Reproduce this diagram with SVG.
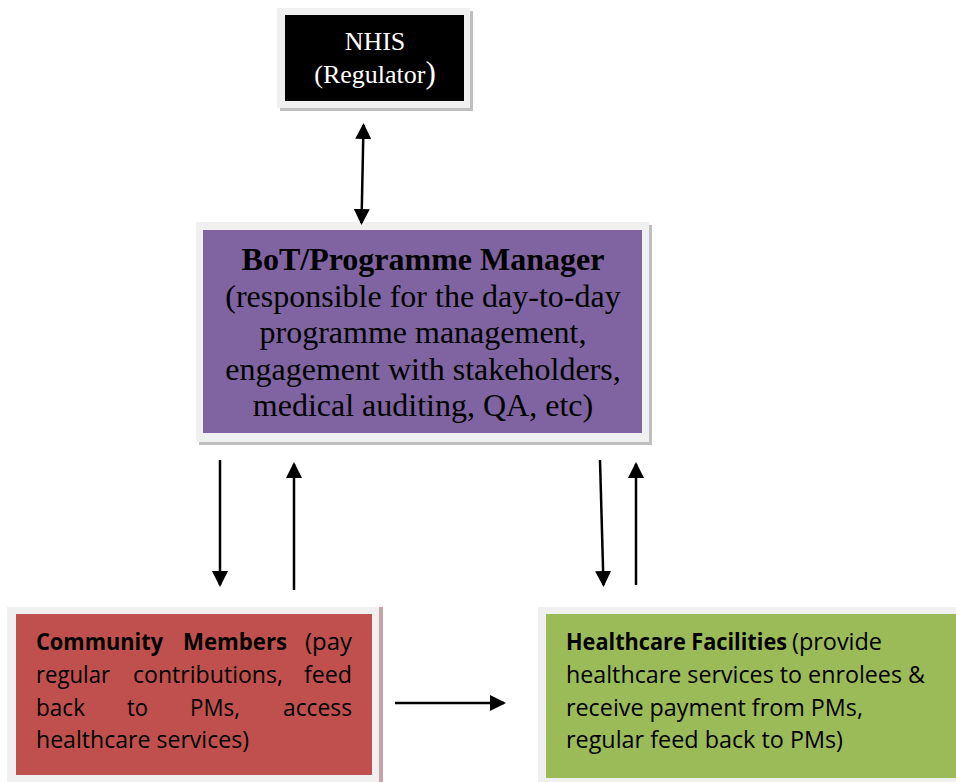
<svg xmlns="http://www.w3.org/2000/svg" width="956" height="782" viewBox="0 0 956 782">
<style>
.frame{fill:#f0f0f0}
.shadow{fill:#bfbfbf}
.serif{font-family:"Liberation Serif","Times New Roman",serif}
.sans{font-family:"Open Sans","Liberation Sans",Arial,sans-serif;font-size:23px;fill:#000}
.b{font-weight:bold}
.conn line{stroke:#000;stroke-width:2.5;fill:none}
</style>
<defs>
<marker id="ah" viewBox="0 0 16 16" refX="14" refY="8" markerWidth="16" markerHeight="16" markerUnits="userSpaceOnUse" orient="auto-start-reverse">
<path d="M0,0 L16,8 L0,16 z" fill="#000"/>
</marker>
</defs>
<rect width="956" height="782" fill="#fff"/>

<g id="nhis">
<rect class="shadow" x="280" y="11" width="193" height="100"/>
<rect class="frame" x="277" y="8" width="193" height="100"/>
<rect x="285" y="15" width="179" height="86" fill="#000"/>
<text class="serif" x="375" y="50" font-size="26" fill="#fff" text-anchor="middle">NHIS</text>
<text class="serif" x="375" y="83" font-size="26" fill="#fff" text-anchor="middle">(Regulator<tspan font-size="31">)</tspan></text>
</g>

<g id="bot">
<rect class="shadow" x="199" y="225" width="453" height="220"/>
<rect class="frame" x="196" y="222" width="453" height="220"/>
<rect x="203" y="230" width="439" height="203" fill="#8064a2"/>
<g class="serif" font-size="32" fill="#000" text-anchor="middle">
<text x="423" y="270" font-weight="bold">BoT/Programme Manager</text>
<text x="423" y="307">(responsible for the day-to-day</text>
<text x="423" y="343">programme management,</text>
<text x="423" y="380">engagement with stakeholders,</text>
<text x="423" y="416">medical auditing, QA, etc)</text>
</g>
</g>

<g id="community">
<rect x="378" y="607" width="5" height="175" fill="#c4a4a4"/>
<rect class="frame" x="7" y="607" width="372" height="175"/>
<rect x="16" y="614" width="356" height="161" fill="#c0504d"/>
<g class="sans">
<text class="b" x="36" y="650" textLength="127" lengthAdjust="spacingAndGlyphs">Community</text>
<text class="b" x="183" y="650" textLength="104" lengthAdjust="spacingAndGlyphs">Members</text>
<text x="305" y="650" textLength="47" lengthAdjust="spacingAndGlyphs">(pay</text>
<text x="36" y="683" textLength="74" lengthAdjust="spacingAndGlyphs">regular</text>
<text x="133" y="683" textLength="150" lengthAdjust="spacingAndGlyphs">contributions,</text>
<text x="304" y="683" textLength="48" lengthAdjust="spacingAndGlyphs">feed</text>
<text x="36" y="716" textLength="49" lengthAdjust="spacingAndGlyphs">back</text>
<text x="127" y="716" textLength="21" lengthAdjust="spacingAndGlyphs">to</text>
<text x="190" y="716" textLength="50" lengthAdjust="spacingAndGlyphs">PMs,</text>
<text x="283" y="716" textLength="69" lengthAdjust="spacingAndGlyphs">access</text>
<text x="36" y="748" textLength="213" lengthAdjust="spacingAndGlyphs">healthcare services)</text>
</g>
</g>

<g id="facilities">
<rect class="frame" x="538" y="607" width="418" height="175"/>
<rect x="546" y="614" width="410" height="164" fill="#9bbb59"/>
<g class="sans">
<text class="b" x="566" y="650" textLength="221" lengthAdjust="spacingAndGlyphs">Healthcare Facilities</text>
<text x="792" y="650" textLength="90" lengthAdjust="spacingAndGlyphs">(provide</text>
<text x="566" y="683" textLength="359" lengthAdjust="spacingAndGlyphs">healthcare services to enrolees &amp;</text>
<text x="566" y="716" textLength="297" lengthAdjust="spacingAndGlyphs">receive payment from PMs,</text>
<text x="566" y="748" textLength="277" lengthAdjust="spacingAndGlyphs">regular feed back to PMs)</text>
</g>
</g>

<g id="connectors" class="conn">
<line x1="363.5" y1="125" x2="361.5" y2="223" marker-start="url(#ah)" marker-end="url(#ah)"/>
<line x1="220" y1="460" x2="220" y2="585" marker-end="url(#ah)"/>
<line x1="294" y1="590" x2="294" y2="464" marker-end="url(#ah)"/>
<line x1="600" y1="460" x2="603.5" y2="585" marker-end="url(#ah)"/>
<line x1="636" y1="585" x2="636" y2="464" marker-end="url(#ah)"/>
<line x1="395" y1="703" x2="504" y2="703" marker-end="url(#ah)"/>
</g>
</svg>
